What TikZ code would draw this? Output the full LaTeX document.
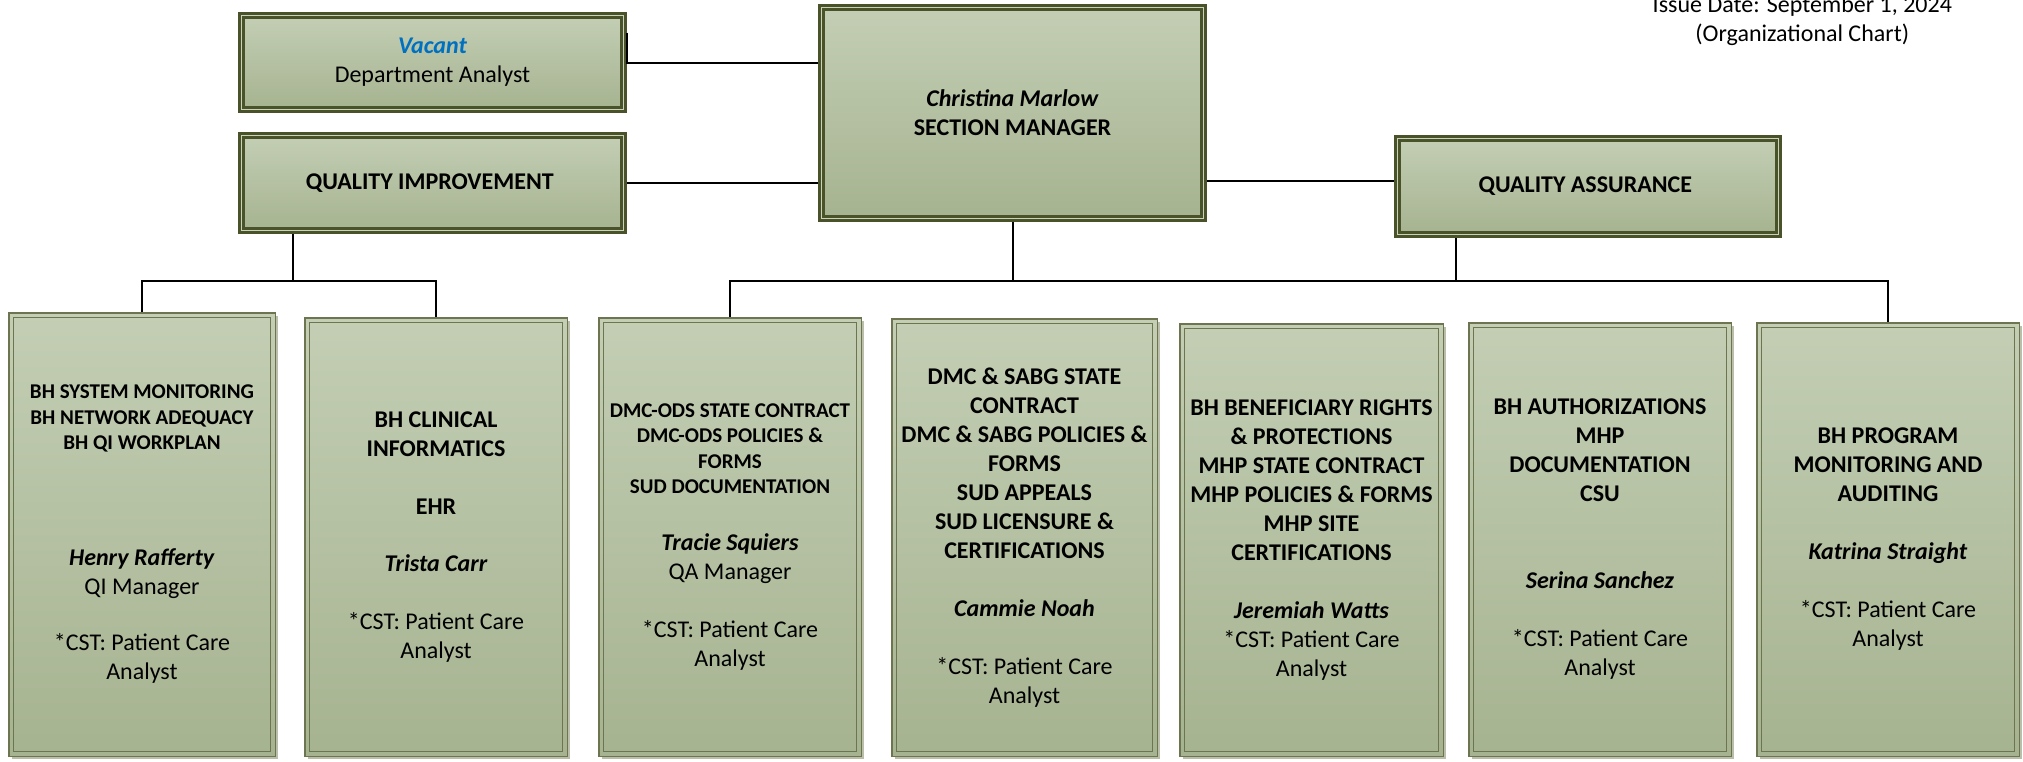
\documentclass[tikz,border=0pt]{standalone}
\usepackage{fontspec}
\setmainfont{Carlito}
\usetikzlibrary{shadows, calc, positioning}

\definecolor{boxtop}{HTML}{C3CEB4}
\definecolor{boxbot}{HTML}{A6B390}
\definecolor{rimdark}{HTML}{4A5229}
\definecolor{rimlight}{HTML}{C9D2BB}
\definecolor{unitrim}{HTML}{6C7550}
\definecolor{shade}{HTML}{9EA386}
\definecolor{vacblue}{HTML}{0070C0}

\newcommand{\hd}[1]{\textbf{#1}}
\newcommand{\hds}[1]{{\fontsize{21}{25}\selectfont\bfseries #1}}
\newcommand{\nm}[1]{\textbf{\textit{#1}}}

\begin{document}
\begin{tikzpicture}[x=1pt, y=1pt,
    txt/.style={font=\fontsize{24}{29}\selectfont, align=center, inner sep=0pt},
    head/.style={txt, draw=rimdark, line width=3pt, double=rimlight, double distance=1pt,
        outer sep=3.5pt, top color=boxtop, bottom color=boxbot,
        drop shadow={shadow xshift=3.5pt, shadow yshift=-3.5pt, fill=shade, opacity=1},
        minimum width=382pt},
    unit/.style={txt, draw=unitrim, line width=1.5pt, top color=boxtop, bottom color=boxbot,
        drop shadow={shadow xshift=3pt, shadow yshift=-3pt, fill=shade!70, opacity=1},
        path picture={\draw [unitrim, line width=1pt]
            ([shift={(5pt,-5pt)}]path picture bounding box.north west) rectangle
            ([shift={(-5pt,5pt)}]path picture bounding box.south east);}},
    link/.style={draw=black, line width=2pt}]
                    \useasboundingbox (0, 0) rectangle (2023, -761);

                    \node [txt, anchor=base] (Di) at (1805, -12) { Issue Date: September 1, 2024 };
                    \node [txt, anchor=base] (Dc) at (1805, -41.5) { (Organizational Chart) };

                    \node [head, minimum height=94pt] (Tv) at (432.5, -62.5) { \nm{\textcolor{vacblue}{Vacant}}\\ Department Analyst };
                    \node [head, minimum height=95pt] (Ti) at (432.5, -183) { \hd{QUALITY IMPROVEMENT} };
                    \node [head, minimum height=211pt] (Tm) at (1012.5, -113) { \nm{Christina Marlow}\\ \hd{SECTION MANAGER} };
                    \node [head, minimum width=381pt, minimum height=96pt] (Ta) at (1588, -186.5) { \hd{QUALITY ASSURANCE} };

                    \node [unit, minimum width=266.5pt, minimum height=443.5pt] (B1) at (142, -534.5) { \hds{BH SYSTEM MONITORING}\\[-3.5pt] \hds{BH NETWORK ADEQUACY}\\[-3.5pt] \hds{BH QI WORKPLAN}\\[87pt] \nm{Henry Rafferty}\\ QI Manager\\[27pt] *CST: Patient Care\\ Analyst };
                    \node [unit, minimum width=262.5pt, minimum height=438.5pt] (B2) at (436, -537) { \hd{BH CLINICAL}\\ \hd{INFORMATICS}\\[29pt] \hd{EHR}\\[28pt] \nm{Trista Carr}\\[29pt] *CST: Patient Care\\ Analyst };
                    \node [unit, minimum width=262.5pt, minimum height=438.5pt] (B3) at (730, -537) { \hds{DMC-ODS STATE CONTRACT}\\[-3.5pt] \hds{DMC-ODS POLICIES \&}\\[-3.5pt] \hds{FORMS}\\[-3.5pt] \hds{SUD DOCUMENTATION}\\[28pt] \nm{Tracie Squiers}\\ QA Manager\\[29pt] *CST: Patient Care\\ Analyst };
                    \node [unit, minimum width=265.5pt, minimum height=437.5pt] (B4) at (1024.5, -537.5) { \hd{DMC \& SABG STATE}\\ \hd{CONTRACT}\\ \hd{DMC \& SABG POLICIES \&}\\ \hd{FORMS}\\ \hd{SUD APPEALS}\\ \hd{SUD LICENSURE \&}\\ \hd{CERTIFICATIONS}\\[29pt] \nm{Cammie Noah}\\[29pt] *CST: Patient Care\\ Analyst };
                    \node [unit, minimum width=263.5pt, minimum height=432.5pt] (B5) at (1311.5, -540) { \hd{BH BENEFICIARY RIGHTS}\\ \hd{\& PROTECTIONS}\\ \hd{MHP STATE CONTRACT}\\ \hd{MHP POLICIES \& FORMS}\\ \hd{MHP SITE}\\ \hd{CERTIFICATIONS}\\[29pt] \nm{Jeremiah Watts}\\ *CST: Patient Care\\ Analyst };
                    \node [unit, minimum width=262.5pt, minimum height=433.5pt] (B6) at (1600, -539.5) { \hd{BH AUTHORIZATIONS}\\ \hd{MHP}\\ \hd{DOCUMENTATION}\\ \hd{CSU}\\[58pt] \nm{Serina Sanchez}\\[29pt] *CST: Patient Care\\ Analyst };
                    \node [unit, minimum width=262.5pt, minimum height=433.5pt] (B7) at (1888, -539.5) { \hd{BH PROGRAM}\\ \hd{MONITORING AND}\\ \hd{AUDITING}\\[29pt] \nm{Katrina Straight}\\[29pt] *CST: Patient Care\\ Analyst };

                    \coordinate (Jl) at (292.5, -281);
                    \coordinate (Jr) at (1012.5, -281);

                    \draw [link] ([yshift=30pt]Tv.east) |- (Tv.east -| Tm.west);
                    \draw [link] (Ti.east) -- (Ti.east -| Tm.west);
                    \draw [link] ([yshift=6pt]Ta.west) -- ([yshift=6pt]Ta.west -| Tm.east);
                    \draw [link] ([xshift=-140pt]Ti.south) -- ([xshift=-140pt]Ti.south |- Jl);
                    \draw [link] (B1.north) |- (Jl) -| (B2.north);
                    \draw [link] (Tm.south) -- (Tm.south |- Jr);
                    \draw [link] (B3.north) |- (Jr) -| (B7.north);
                    \draw [link] ([xshift=-132pt]Ta.south) -- ([xshift=-132pt]Ta.south |- Jr);
            \end{tikzpicture}
\end{document}
